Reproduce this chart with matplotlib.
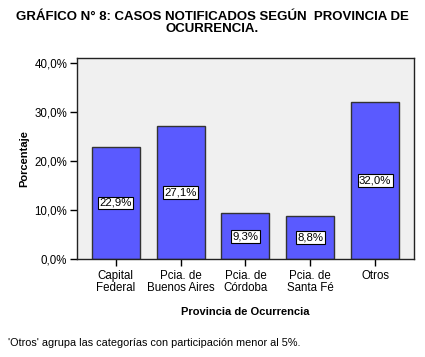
import matplotlib
matplotlib.use("Agg")
import matplotlib.pyplot as plt
from matplotlib.ticker import FuncFormatter

categories = ["Capital\nFederal", "Pcia. de\nBuenos Aires", "Pcia. de\nCórdoba",
              "Pcia. de\nSanta Fé", "Otros"]
values = [22.9, 27.1, 9.3, 8.8, 32.0]
yticks = [0, 10, 20, 30, 40]

BAR = "#5a5aff"
BG = "#f0f0f0"

plt.rcParams["font.family"] = ["Liberation Sans", "DejaVu Sans"]

fig = plt.figure(figsize=(4.25, 3.57), dpi=100, facecolor="white")
ax = fig.add_axes([0.181, 0.2745, 0.793, 0.563])
ax.set_facecolor(BG)

x = range(len(values))
ax.bar(x, values, width=0.74, color=BAR, edgecolor="#333333", linewidth=1.0, zorder=2)
for xi, v in zip(x, values):
    ax.text(xi, v / 2, f"{v:.1f}%".replace(".", ","), ha="center", va="center",
            fontsize=8.2, zorder=3,
            bbox=dict(boxstyle="square,pad=0.12", facecolor="white",
                      edgecolor="black", linewidth=0.8))

ax.set_xlim(-0.6, 4.6)
ax.set_ylim(0, 41)
ax.set_yticks(yticks)
ax.yaxis.set_major_formatter(FuncFormatter(lambda v, p: f"{v:.1f}%".replace(".", ",")))
ax.set_xticks(list(x))
ax.set_xticklabels(categories, fontsize=8.3, linespacing=1.0)
ax.tick_params(axis="y", labelsize=8.3, direction="out", length=5, width=1, pad=2)
ax.tick_params(axis="x", direction="out", length=5, width=1, pad=3)
for s in ax.spines.values():
    s.set_linewidth(1)
    s.set_color("#222222")

ax.set_ylabel("Porcentaje", fontsize=8, fontweight="bold", labelpad=4)
ax.set_xlabel("Provincia de Ocurrencia", fontsize=8, fontweight="bold", labelpad=9)

fig.text(0.5, 0.968, "GRÁFICO N° 8: CASOS NOTIFICADOS SEGÚN  PROVINCIA DE\nOCURRENCIA.",
         ha="center", va="top", fontsize=9.5, fontweight="bold", linespacing=0.95)
fig.text(0.019, 0.04, "'Otros' agrupa las categorías con participación menor al 5%.",
         ha="left", va="center", fontsize=7.8)

fig.savefig("out.png", dpi=100, facecolor="white")
